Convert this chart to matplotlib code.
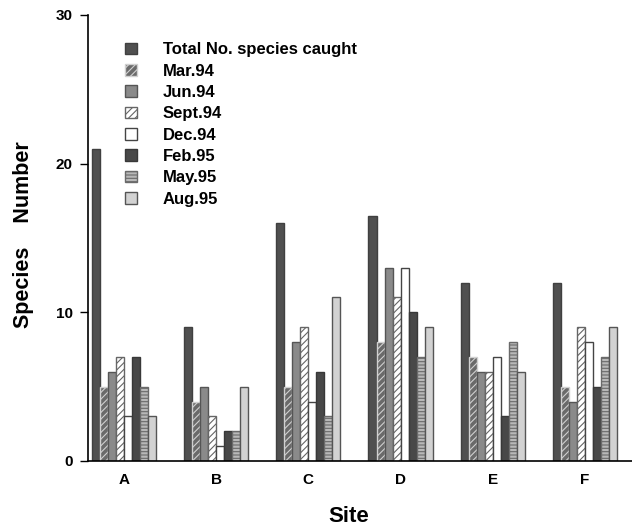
import matplotlib
matplotlib.use("Agg")
import matplotlib.pyplot as plt
import numpy as np

sites = ["A", "B", "C", "D", "E", "F"]
series_names = ["Total No. species caught", "Mar.94", "Jun.94", "Sept.94",
                "Dec.94", "Feb.95", "May.95", "Aug.95"]
total = [21, 9, 16, 16.5, 12, 12]
mar94 = [5, 4, 5, 8, 7, 5]
jun94 = [6, 5, 8, 13, 6, 4]
sep94 = [7, 3, 9, 11, 6, 9]
dec94 = [3, 1, 4, 13, 7, 8]
feb95 = [7, 2, 6, 10, 3, 5]
may95 = [5, 2, 3, 7, 8, 7]
aug95 = [3, 5, 11, 9, 6, 9]
all_series = [total, mar94, jun94, sep94, dec94, feb95, may95, aug95]

styles = [
    dict(facecolor="#505050", edgecolor="#404040", hatch=None),
    dict(facecolor="#6a6a6a", edgecolor="#d0d0d0", hatch="/////"),
    dict(facecolor="#8a8a8a", edgecolor="#555555", hatch=None),
    dict(facecolor="#ffffff", edgecolor="#666666", hatch="/////"),
    dict(facecolor="#ffffff", edgecolor="#444444", hatch=None),
    dict(facecolor="#484848", edgecolor="#383838", hatch=None),
    dict(facecolor="#b8b8b8", edgecolor="#6a6a6a", hatch="-----"),
    dict(facecolor="#d2d2d2", edgecolor="#555555", hatch=None),
]

plt.rcParams['font.family'] = ['Liberation Sans', 'DejaVu Sans']
plt.rcParams['hatch.linewidth'] = 0.8

fig = plt.figure(figsize=(6.32, 5.29), dpi=100)
ax = fig.add_axes([88/632, 68/529, 1 - 88/632, (461-15)/529])

x = np.arange(len(sites))
w = 0.087
n = len(all_series)
for i, (vals, st, name) in enumerate(zip(all_series, styles, series_names)):
    offs = (i - (n - 1) / 2) * w
    ax.bar(x + offs, vals, width=w, facecolor=st["facecolor"],
           edgecolor=st["edgecolor"], hatch=st["hatch"], linewidth=1.0,
           label=name)

ax.set_xlim(-0.39, 5.51)
ax.set_ylim(0, 30)
ax.set_yticks([0, 10, 20, 30])
ax.set_xticks(x)
ax.set_xticklabels(sites)
for s in ["top", "right"]:
    ax.spines[s].set_visible(False)
ax.spines["left"].set_linewidth(1.2)
ax.spines["bottom"].set_linewidth(1.2)
ax.tick_params(axis="y", direction="out", length=6, width=1.0, labelsize=11, pad=5)
ax.tick_params(axis="x", length=0, labelsize=11, pad=9)
for lab in ax.get_yticklabels() + ax.get_xticklabels():
    lab.set_fontweight("bold")

ax.set_xlabel("Site", fontsize=16, fontweight="bold")
ax.xaxis.set_label_coords(0.48, -0.1)
ax.set_ylabel("Species    Number", fontsize=15.5, fontweight="bold")
ax.yaxis.set_label_coords(-0.1, 0.507)

leg = ax.legend(loc="upper left", bbox_to_anchor=(0.056, 0.954), frameon=False,
                prop=dict(size=12, weight="bold"), handlelength=0.7,
                handleheight=0.7, labelspacing=0.38, handletextpad=1.55,
                borderaxespad=0.0)

fig.savefig("out.png", dpi=100)
